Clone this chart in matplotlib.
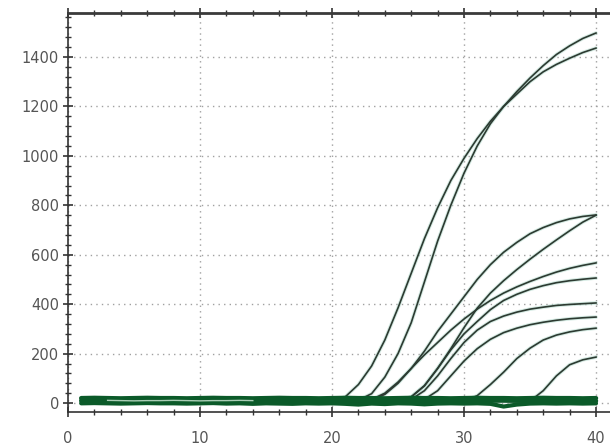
import matplotlib
matplotlib.use("Agg")
import matplotlib.pyplot as plt
from matplotlib.ticker import MultipleLocator

cycles = list(range(1, 41))

# amplification curves (fluorescence per cycle)
well_a = [6, 5, 5, 4, 5, 6, 5, 4, 5, 5, 6, 5, 4, 5, 6, 5, 4, 5, 6, 8,
          25, 75, 150, 255, 385, 525, 665, 790, 900, 990,
          1070, 1140, 1200, 1250, 1300, 1340, 1370, 1395, 1418, 1436]
well_b = [4, 5, 6, 5, 4, 5, 5, 6, 5, 4, 5, 6, 5, 5, 4, 5, 6, 5, 4, 5,
          6, 12, 38, 105, 200, 325, 490, 655, 800, 930,
          1040, 1130, 1200, 1260, 1315, 1365, 1410, 1445, 1475, 1497]
well_c = [8, 7, 8, 9, 8, 7, 8, 8, 9, 8, 7, 8, 9, 8, 8, 7, 8, 9, 8, 8,
          7, 8, 12, 35, 80, 140, 210, 290, 360, 430,
          500, 560, 610, 650, 685, 710, 730, 745, 755, 761]
well_d = [3, 4, 3, 2, 3, 4, 3, 3, 2, 3, 4, 3, 3, 2, 3, 4, 3, 3, 2, 3,
          4, 3, 3, 4, 8, 25, 70, 140, 220, 305,
          384, 445, 495, 540, 582, 622, 660, 697, 732, 760]
well_e = [9, 8, 9, 10, 9, 8, 9, 9, 10, 9, 8, 9, 10, 9, 9, 8, 9, 10, 9, 9,
          8, 8, 15, 40, 85, 140, 195, 245, 295, 340,
          380, 415, 445, 470, 492, 512, 530, 545, 557, 567]
well_f = [2, 3, 2, 1, 2, 3, 2, 2, 1, 2, 3, 2, 2, 1, 2, 3, 2, 2, 1, 2,
          3, 2, 2, 3, 6, 25, 70, 140, 215, 280,
          330, 378, 415, 440, 460, 475, 487, 495, 501, 506]
well_g = [5, 6, 5, 4, 5, 6, 5, 5, 4, 5, 6, 5, 5, 4, 5, 6, 5, 5, 4, 5,
          6, 5, 5, 6, 5, 15, 50, 110, 180, 245,
          295, 330, 352, 368, 380, 388, 395, 399, 402, 405]
well_h = [7, 6, 7, 8, 7, 6, 7, 7, 8, 7, 6, 7, 8, 7, 7, 6, 7, 8, 7, 7,
          6, 7, 7, 8, 7, 6, 15, 50, 110, 170,
          220, 258, 285, 303, 317, 327, 335, 341, 345, 348]
well_i = [4, 3, 4, 5, 4, 3, 4, 4, 5, 4, 3, 4, 5, 4, 4, 3, 4, 5, 4, 4,
          3, 4, 4, 5, 4, 3, 4, 5, 4, 8,
          30, 75, 125, 180, 222, 255, 275, 288, 297, 303]
well_j = [6, 5, 6, 7, 6, 5, 6, 6, 7, 6, 5, 6, 7, 6, 6, 5, 6, 7, 6, 6,
          5, 6, 6, 7, 6, 5, 6, 7, 6, 5,
          6, 7, 6, 5, 8, 50, 110, 155, 175, 186]

# negative / no-template wells
flat_1 = [20, 21, 20, 19, 20, 21, 20, 20, 19, 20, 21, 20, 20, 19, 20, 21, 20, 20, 19, 20,
          21, 20, 20, 19, 20, 21, 20, 20, 19, 20, 21, 20, 20, 19, 20, 21, 20, 20, 19, 20]
flat_2 = [-1, 0, -1, -2, -1, 0, -1, -1, -2, -1, 0, -2, -1, -3, -1, -2, -3, -1, -2, -1,
          -3, -6, -2, -4, -1, -2, -5, -2, -1, -2, -1, -3, -14, -6, -2, -1, -2, -1, -2, -1]
flat_3 = [10, 10, 11, 10, 9, 10, 10, 11, 10, 9, 10, 10, 11, 10, 9, 10, 10, 11, 10, 9,
          10, 10, 11, 10, 9, 10, 10, 11, 10, 9, 10, 10, 11, 10, 9, 10, 10, 11, 10, 9]

x_ticks = [0, 10, 20, 30, 40]
y_ticks = [0, 200, 400, 600, 800, 1000, 1200, 1400]

amp_wells = [well_a, well_b, well_c, well_d, well_e,
             well_f, well_g, well_h, well_i, well_j]

fig = plt.figure(figsize=(6.1, 4.48), dpi=100)
ax = fig.add_axes([0.1115, 0.0804, 0.8885, 0.8906])

for vals in amp_wells:
    ax.plot(cycles, vals, color="#b8dcd0", lw=2.6, alpha=0.6, zorder=2,
            solid_capstyle="round")
    ax.plot(cycles, vals, color="#2c3a31", lw=1.2, zorder=3)

# baseline band of the negative wells
ax.plot(cycles, flat_1, color="#0b5a29", lw=3.2, zorder=4, solid_capstyle="round")
ax.plot(cycles, flat_3, color="#0b5a29", lw=3.2, zorder=4, solid_capstyle="round")
ax.plot(cycles, flat_2, color="#0b5a29", lw=3.0, zorder=4, solid_capstyle="round")
ax.plot(cycles[2:14], flat_3[2:14], color="#a9cdb4", lw=1.0, zorder=5)

ax.set_xlim(0, 41.06)
ax.set_ylim(-36, 1578)
ax.set_xticks(x_ticks)
ax.set_yticks(y_ticks)
ax.xaxis.set_minor_locator(MultipleLocator(2))
ax.yaxis.set_minor_locator(MultipleLocator(40))

ax.grid(True, which="major", color="#a0a0a0", linestyle=(0, (1, 3)), lw=1.0)
ax.set_axisbelow(True)

ax.spines["right"].set_visible(False)
for side in ("left", "bottom"):
    ax.spines[side].set_color("#333333")
    ax.spines[side].set_linewidth(1.2)
ax.spines["top"].set_color("#3a3a3a")
ax.spines["top"].set_linewidth(2.0)

ax.tick_params(which="major", direction="inout", length=7, width=1.2,
               color="#333333", labelsize=10.5, labelcolor="#555555", top=True)
ax.tick_params(which="minor", direction="inout", length=4, width=1.0,
               color="#333333", top=True)
ax.tick_params(axis="y", right=False, pad=3)
ax.tick_params(axis="x", pad=10)

fig.savefig("out.png", dpi=100)
plt.close(fig)
